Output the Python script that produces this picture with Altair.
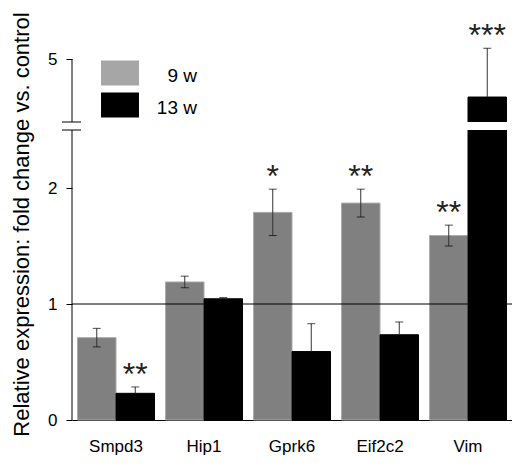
import altair as alt
import pandas as pd

genes = ["Smpd3", "Hip1", "Gprk6", "Eif2c2", "Vim"]
weeks = ["9 w", "13 w"]
w9_mean = [0.71, 1.19, 1.79, 1.87, 1.59]
w9_err = [0.08, 0.05, 0.20, 0.12, 0.09]
w9_sig = ["", "", "*", "**", "**"]
w13_mean = [0.23, 1.045, 0.59, 0.735, 4.675]
w13_err = [0.055, 0.01, 0.24, 0.11, 0.42]
w13_sig = ["**", "", "", "", "***"]
y_ticks = [0, 1, 2, 5]
break_low, break_high = 2.5, 4.46

rows = []
for i, g in enumerate(genes):
    rows.append(dict(gene=g, week="9 w", mean=w9_mean[i], err=w9_err[i], sig=w9_sig[i]))
    rows.append(dict(gene=g, week="13 w", mean=w13_mean[i], err=w13_err[i], sig=w13_sig[i]))
df = pd.DataFrame(rows)
df["lo"] = df["mean"] - df["err"]
df["hi"] = df["mean"] + df["err"]
# the lower whisker of the black bars is hidden inside the bar
df["lo_vis"] = df["lo"].where(df["week"] == "9 w", df["mean"])

W, H = 440, 406
yscale = alt.Scale(domain=[0, break_low, break_high, 5.39], range=[406, 116, 108, 0],
                   nice=False, zero=False)
xscale = alt.Scale(paddingInner=0.125, paddingOuter=0.0625)
xaxis = alt.Axis(title=None, ticks=False, tickSize=0, domainColor="black", labelAngle=0,
                 labelFontSize=17, labelPadding=18, labelColor="black")
yaxis = alt.Axis(values=y_ticks, domain=False, grid=False, tickSize=6, tickColor="black",
                 labelFontSize=17, labelPadding=9, labelColor="black",
                 title="Relative expression:  fold change vs. control",
                 titleFontSize=22, titleFontWeight="normal", titleColor="black",
                 titleX=-61, titleY=210, titleAngle=270, titleAlign="center",
                 titleBaseline="top")


def X():
    return alt.X("gene:N", sort=genes, scale=xscale, axis=xaxis)


def XO():
    return alt.XOffset("week:N", sort=weeks, scale=alt.Scale(paddingInner=0, paddingOuter=0))


def Y(field=None, datum=None):
    if datum is not None:
        return alt.Y(datum=datum, type="quantitative", scale=yscale, axis=yaxis)
    return alt.Y(field, type="quantitative", scale=yscale, axis=yaxis)


base = alt.Chart(df)

legend = alt.Legend(
    title=None, orient="none", legendX=35, legendY=49, direction="vertical",
    symbolType="M-1.46,-1.19L1.46,-1.19L1.46,0.73L-1.46,0.73Z",
    symbolSize=676, symbolStrokeWidth=0, symbolOpacity=1,
    labelFontSize=19, labelAlign="right", labelOffset=64,
    labelBaseline="middle", labelColor="black", labelLimit=0,
    rowPadding=6, padding=0,
)

bars9 = base.transform_filter(alt.datum.week == "9 w").mark_bar(
    fill="#808080", stroke="#ABABAB", strokeWidth=1).encode(
    x=X(), xOffset=XO(), y=Y("mean"))
bars13 = base.transform_filter(alt.datum.week == "13 w").mark_bar(
    fill="#000000", stroke="#000000", strokeWidth=1).encode(
    x=X(), xOffset=XO(), y=Y("mean"))

# invisible points that only carry the legend (its swatch is lighter than the bars)
legend_layer = base.mark_point(filled=True, size=0).encode(
    x=X(), xOffset=XO(), y=Y("mean"),
    color=alt.Color("week:N", sort=weeks, legend=legend,
                    scale=alt.Scale(domain=weeks, range=["#A6A6A6", "#000000"])),
)

gap = alt.Chart(pd.DataFrame({"k": [0]})).mark_rect(color="white").encode(
    y=Y(datum=break_low), y2=alt.Y2(datum=break_high),
    x=alt.value(1), x2=alt.value(W),
)

err_line = base.mark_rule(color="#333333", strokeWidth=1).encode(
    x=X(), xOffset=XO(), y=Y("lo_vis"), y2="hi")
cap_hi = base.mark_tick(color="#000000", thickness=1, size=8, orient="horizontal").encode(
    x=X(), xOffset=XO(), y=Y("hi"))
cap_lo = base.mark_tick(color="#000000", thickness=1, size=8, orient="horizontal").encode(
    x=X(), xOffset=XO(), y=Y("lo")).transform_filter(alt.datum.week == "9 w")

ref_line = alt.Chart(pd.DataFrame({"v": [1]})).mark_rule(color="black", strokeWidth=1).encode(
    y=Y("v"), x=alt.value(0), x2=alt.value(W))

axis_low = alt.Chart(pd.DataFrame({"a": [0], "b": [break_low]})).mark_rule(
    color="black", strokeWidth=1).encode(x=alt.value(0), y=Y("a"), y2="b")
axis_high = alt.Chart(pd.DataFrame({"a": [break_high], "b": [5]})).mark_rule(
    color="black", strokeWidth=1).encode(x=alt.value(0), y=Y("a"), y2="b")
break_marks = alt.Chart(pd.DataFrame({"v": [break_low, break_high]})).mark_rule(
    color="black", strokeWidth=1).encode(y=Y("v"), x=alt.value(-10), x2=alt.value(9))

stars = base.mark_text(fontSize=32, baseline="alphabetic", dy=-2, color="#222222").encode(
    x=X(), xOffset=XO(), y=Y("hi"), text="sig:N")

chart = alt.layer(
    bars9, bars13, legend_layer, ref_line, gap, err_line, cap_hi, cap_lo,
    axis_low, axis_high, break_marks, stars
).properties(
    width=W, height=H,
    autosize=alt.AutoSizeParams(type="none"),
    padding={"left": 64, "top": 6, "right": 0, "bottom": 35},
).configure(font="Liberation Sans").configure_view(stroke=None)

chart.save("out.html", embed_options={"renderer": "svg", "actions": False})
